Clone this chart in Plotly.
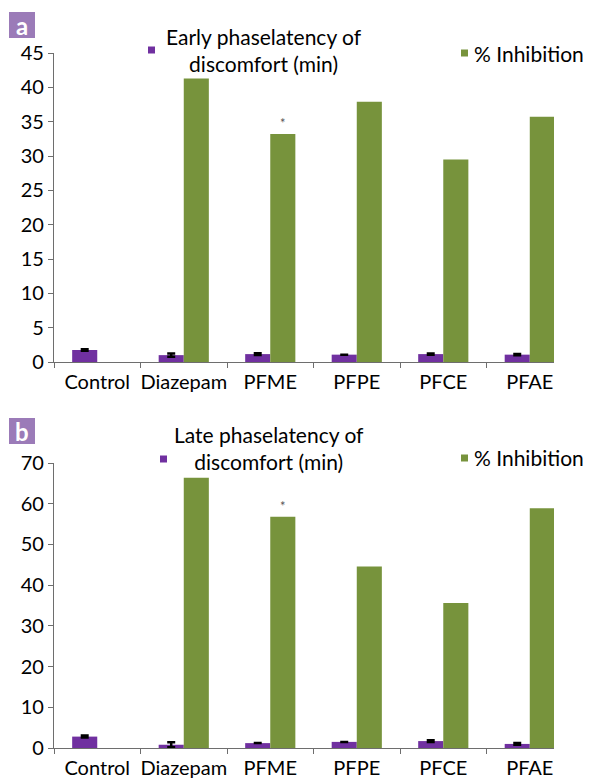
import plotly.graph_objects as go
from plotly.subplots import make_subplots

categories = ["Control", "Diazepam", "PFME", "PFPE", "PFCE", "PFAE"]

early_latency = [1.75, 1.0, 1.15, 1.07, 1.15, 1.07]
early_latency_err = [0.1, 0.25, 0.12, 0.0, 0.1, 0.1]
early_inhibition = [0, 41.3, 33.2, 37.9, 29.5, 35.7]

late_latency = [2.8, 0.8, 1.2, 1.5, 1.7, 1.0]
late_latency_err = [0.25, 0.6, 0.0, 0.0, 0.2, 0.2]
late_inhibition = [0, 66.4, 56.8, 44.6, 35.6, 58.9]

star_text = ["", "", "*", "", "", ""]

PURPLE = "#7030a0"
GREEN = "#77933c"
FONT = "Lato"

# Page body has an 8px margin; plot area in screen pixels: x 54..554, y 53..748
PX0, PX1, PY0, PY1 = 54, 554, 53, 748
W, H = PX1 - PX0, PY1 - PY0

def px(x):
    return (x - PX0) / W

def py(y):
    return (PY1 - y) / H

fig = make_subplots(rows=2, cols=1, vertical_spacing=0.0)

def add_panel(row, lat, err, inh):
    fig.add_trace(go.Bar(
        x=categories, y=lat, marker=dict(color=PURPLE, line=dict(width=0)),
        error_y=dict(type="data", array=err, color="black", thickness=2.5, width=4),
        showlegend=False), row=row, col=1)
    fig.add_trace(go.Bar(
        x=categories, y=inh, marker=dict(color=GREEN, line=dict(width=0)),
        text=star_text, textposition="outside", cliponaxis=False,
        textfont=dict(size=13, color="#555555", family=FONT),
        showlegend=False), row=row, col=1)

add_panel(1, early_latency, early_latency_err, early_inhibition)
add_panel(2, late_latency, late_latency_err, late_inhibition)

axis_common = dict(showline=True, linecolor="#6e6e6e", linewidth=1.2,
                   ticks="outside", ticklen=5, tickcolor="#6e6e6e",
                   showgrid=False, zeroline=False, automargin=False)

fig.update_xaxes(**axis_common, tickson="boundaries", range=[-0.5, 5.28],
                 tickangle=0, ticklabelstandoff=2,
                 tickfont=dict(family=FONT, size=20, color="black"))
fig.update_yaxes(**axis_common, tickfont=dict(family=FONT, size=20, color="black"))

fig.update_layout(
    width=585, height=773,
    margin=dict(l=46, r=39, t=45, b=33),
    plot_bgcolor="white", paper_bgcolor="white",
    barmode="group", bargap=0.42, bargroupgap=0,
    font=dict(family=FONT, color="black"),
    xaxis=dict(domain=[0, 1]),
    yaxis=dict(domain=[py(362), 1.0], range=[0, 45], dtick=5),
    xaxis2=dict(domain=[0, 1]),
    yaxis2=dict(domain=[0, py(463)], range=[0, 70], dtick=10),
)

# Panel labels
for lab, y0 in [("a", 12), ("b", 418)]:
    fig.add_shape(type="rect", xref="paper", yref="paper",
                  x0=px(9), x1=px(35), y0=py(y0 + 26), y1=py(y0),
                  fillcolor="#9b7bb8", line=dict(width=0))
    fig.add_annotation(text="<b>" + lab + "</b>", xref="paper", yref="paper",
                       x=px(22), y=py(y0 + 13),
                       showarrow=False, font=dict(size=24, color="white", family=FONT),
                       xanchor="center", yanchor="middle")

def square(x, y, color):
    fig.add_shape(type="rect", xref="paper", yref="paper",
                  x0=px(x), x1=px(x + 7), y0=py(y + 3.5), y1=py(y - 3.5),
                  fillcolor=color, line=dict(width=0))

def text(t, x, y, anchor="center", size=21):
    fig.add_annotation(text=t, xref="paper", yref="paper", x=px(x), y=py(y),
                       showarrow=False, xanchor=anchor, yanchor="middle", align="center",
                       font=dict(size=size, family=FONT, color="black"))

# Legend panel a
square(148, 50, PURPLE)
text("Early phaselatency of<br>discomfort (min)", 264, 50)
square(461, 53, GREEN)
text("% Inhibition", 472, 53, anchor="left")

# Legend panel b
square(160, 459, PURPLE)
text("Late phaselatency of<br>discomfort (min)", 269, 448)
square(461, 458, GREEN)
text("% Inhibition", 472, 457, anchor="left")

fig.write_html("out.html")
